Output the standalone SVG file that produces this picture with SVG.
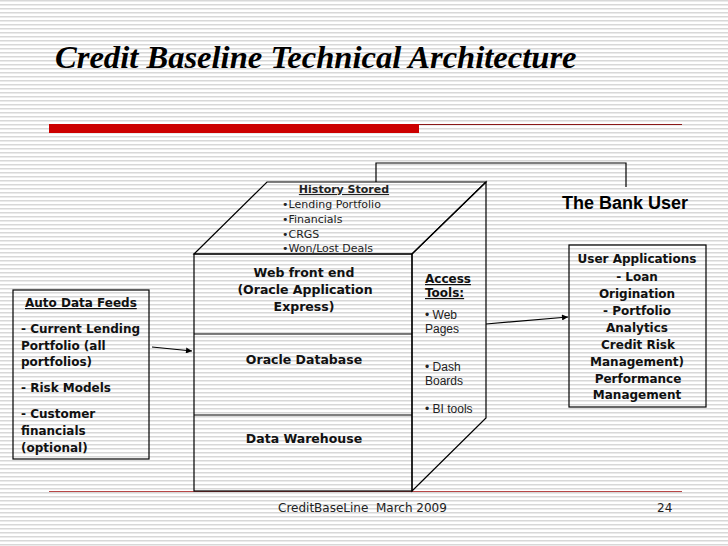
<svg xmlns="http://www.w3.org/2000/svg" width="728" height="546" viewBox="0 0 728 546">
<defs>
<pattern id="stripes" width="8" height="4" patternUnits="userSpaceOnUse">
<rect x="0" y="0" width="8" height="1.5" fill="#d8d8d8"/>
</pattern>
<marker id="arr" viewBox="0 0 10 10" refX="10" refY="5" markerWidth="7" markerHeight="6" markerUnits="userSpaceOnUse" orient="auto">
<path d="M0,0 L10,5 L0,10 z" fill="#000"/>
</marker>
<style>
.b{font-family:"DejaVu Sans",Verdana,sans-serif;font-weight:bold;font-size:12px;fill:#111}
.cb{font-family:"DejaVu Sans",Verdana,sans-serif;font-weight:bold;font-size:12.5px;fill:#111;text-anchor:middle}
.h{font-family:"DejaVu Sans",Verdana,sans-serif;font-size:11px;fill:#222}
.ar{font-family:"Liberation Sans",Arial,sans-serif;font-size:12px;fill:#222}
.ln{fill:none;stroke:#000;stroke-width:1.2}
.u{text-decoration:underline}
</style>
</defs>
<rect width="728" height="546" fill="#fff"/>
<rect width="728" height="546" fill="url(#stripes)"/>

<g id="title">
<text x="55" y="68" font-family="'Liberation Serif','Times New Roman',serif" font-weight="bold" font-style="italic" font-size="32.6" fill="#000">Credit Baseline Technical Architecture</text>
<rect x="49" y="124" width="370" height="9" fill="#cc0000"/>
<line x1="419" y1="124.5" x2="682" y2="124.5" stroke="#8b1a1a" stroke-width="1.2"/>
</g>

<line x1="49" y1="491.5" x2="682" y2="491.5" stroke="#b84848" stroke-width="1.2"/>

<g id="cube">
<polygon class="ln" points="194,254 267,182 486,182 412,254"/>
<polygon class="ln" points="412,254 486,182 486,418 412,491"/>
<rect class="ln" x="194" y="254" width="218" height="237"/>
<line class="ln" x1="194" y1="334" x2="412" y2="334"/>
<line class="ln" x1="194" y1="415" x2="412" y2="415"/>
<text class="h u" x="344" y="193" font-weight="bold" text-anchor="middle">History Stored</text>
<text class="h" x="282" y="208">•Lending Portfolio</text>
<text class="h" x="282" y="223">•Financials</text>
<text class="h" x="282" y="238">•CRGS</text>
<text class="h" x="282" y="252">•Won/Lost Deals</text>
<text class="cb" x="304" y="277">Web front end</text>
<text class="cb" x="305" y="294">(Oracle Application</text>
<text class="cb" x="304" y="311">Express)</text>
<text class="cb" x="304" y="364">Oracle Database</text>
<text class="cb" x="304" y="443">Data Warehouse</text>
<text class="b u" x="425" y="283" font-size="11">Access</text>
<text class="b u" x="425" y="297" font-size="11">Tools:</text>
<text class="ar" x="425" y="319">• Web</text>
<text class="ar" x="425" y="333">Pages</text>
<text class="ar" x="425" y="371">• Dash</text>
<text class="ar" x="425" y="385">Boards</text>
<text class="ar" x="425" y="413">• BI tools</text>
</g>

<g id="feeds">
<rect class="ln" x="13" y="290" width="136" height="169"/>
<text class="b u" x="25" y="307">Auto Data Feeds</text>
<text class="b" x="21" y="333">- Current Lending</text>
<text class="b" x="21" y="350">Portfolio (all</text>
<text class="b" x="21" y="366">portfolios)</text>
<text class="b" x="21" y="392">- Risk Models</text>
<text class="b" x="21" y="418">- Customer</text>
<text class="b" x="21" y="435">financials</text>
<text class="b" x="21" y="452">(optional)</text>
</g>

<g id="bankuser">
<text x="562" y="209" font-family="'Liberation Sans',Arial,sans-serif" font-weight="bold" font-size="18" fill="#000">The Bank User</text>
</g>

<g id="userapps">
<rect class="ln" x="569" y="245" width="137" height="162"/>
<g class="b" text-anchor="middle">
<text x="637" y="263">User Applications</text>
<text x="637" y="281">- Loan</text>
<text x="637" y="298">Origination</text>
<text x="637" y="315">- Portfolio</text>
<text x="637" y="332">Analytics</text>
<text x="638" y="349">Credit Risk</text>
<text x="637" y="366">Management)</text>
<text x="638" y="383">Performance</text>
<text x="637" y="399">Management</text>
</g>
</g>

<g id="connectors">
<polyline class="ln" points="376,182 376,163 626,163 626,187"/>
<line class="ln" x1="152" y1="347" x2="192" y2="351" marker-end="url(#arr)"/>
<line class="ln" x1="486" y1="324" x2="568" y2="317" marker-end="url(#arr)"/>
</g>

<g id="footer">
<text x="278" y="512" font-family="'DejaVu Sans',Verdana,sans-serif" font-size="12" fill="#222" xml:space="preserve">CreditBaseLine  March 2009</text>
<text x="657" y="512" font-family="'DejaVu Sans',Verdana,sans-serif" font-size="12" fill="#222">24</text>
</g>
</svg>
